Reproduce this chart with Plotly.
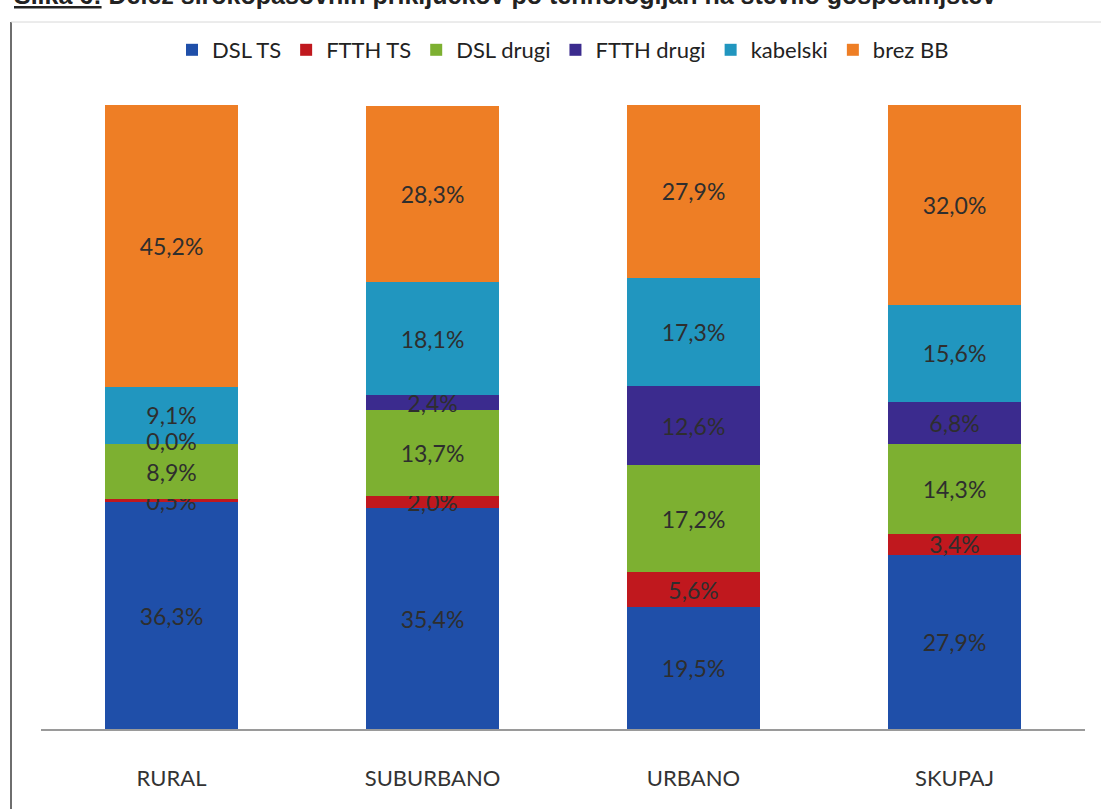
import plotly.graph_objects as go

categories = ["RURAL", "SUBURBANO", "URBANO", "SKUPAJ"]
dsl_ts = [36.3, 35.4, 19.5, 27.9]
ftth_ts = [0.5, 2.0, 5.6, 3.4]
dsl_drugi = [8.9, 13.7, 17.2, 14.3]
ftth_drugi = [0.0, 2.4, 12.6, 6.8]
kabelski = [9.1, 18.1, 17.3, 15.6]
brez_bb = [45.2, 28.3, 27.9, 32.0]

series = [
    ("DSL TS", dsl_ts, "#1F4FA9"),
    ("FTTH TS", ftth_ts, "#C0181E"),
    ("DSL drugi", dsl_drugi, "#7DB031"),
    ("FTTH drugi", ftth_drugi, "#3B2B8E"),
    ("kabelski", kabelski, "#2196BF"),
    ("brez BB", brez_bb, "#EE7E25"),
]

FONT = "Lato, Open Sans, sans-serif"
LABEL_SIZE = 23
fig = go.Figure()
for name, vals, col in series:
    fig.add_trace(go.Bar(
        x=categories, y=vals, name=name,
        marker=dict(color=col, line=dict(width=0)),
        texttemplate="%{y:.1f}%", textposition="inside",
        insidetextanchor="middle", textangle=0,
        textfont=dict(family=FONT, size=LABEL_SIZE, color="#2E2E2E"),
        constraintext="none",
    ))

# zero-height segments get no bar text from plotly; label them at their stack position
zx, zy, zt = [], [], []
for i, c in enumerate(categories):
    base = 0.0
    for name, vals, col in series:
        if vals[i] == 0:
            zx.append(c)
            zy.append(base)
            zt.append(f"{vals[i]:.1f}%".replace(".", ","))
        base += vals[i]
fig.add_trace(go.Scatter(
    x=zx, y=zy, text=zt, mode="text", showlegend=False, hoverinfo="skip",
    textfont=dict(family=FONT, size=LABEL_SIZE, color="#2E2E2E"),
))

L, R, T, B = 41, 16, 105, 80
W, H = 1101, 809
pw, ph = W - L - R, H - T - B

def px(xp):
    return (xp - L) / pw

def py(yp):
    return (H - B - yp) / ph

fig.update_layout(
    width=W, height=H, barmode="stack", bargap=0.49,
    separators=",.",
    margin=dict(l=L, r=R, t=T, b=B),
    paper_bgcolor="white", plot_bgcolor="white",
    uniformtext=dict(minsize=LABEL_SIZE, mode="show"),
    font=dict(family=FONT, color="#333333"),
    legend=dict(orientation="h", x=0.5, xanchor="center", y=py(50), yanchor="middle",
                font=dict(size=22, color="#222222"), traceorder="normal",
                itemwidth=30),
    xaxis=dict(showline=True, linecolor="#9A9A9A", linewidth=2, ticks="",
               tickfont=dict(size=22, color="#333333"), ticklabelstandoff=29,
               showgrid=False),
    yaxis=dict(range=[0, 100], visible=False, showgrid=False),
    shapes=[
        dict(type="line", xref="paper", yref="paper", x0=px(11), x1=px(11), y0=py(22), y1=py(812),
             line=dict(color="#6E6E6E", width=2)),
        dict(type="line", xref="paper", yref="paper", x0=px(11), x1=px(1101), y0=py(22), y1=py(22),
             line=dict(color="#D8D8D8", width=1)),
    ],
    annotations=[
        dict(xref="paper", yref="paper", x=px(12), y=py(-5), xanchor="left", yanchor="middle",
             showarrow=False,
             text="<b><u>Slika 6:</u> Delež širokopasovnih priključkov po tehnologijah na število gospodinjstev</b>",
             font=dict(family="Liberation Sans, Arial", size=25, color="#222222")),
    ],
)

fig.write_html("out.html", config={"displayModeBar": False},
               post_script="document.body.style.margin='0';")
